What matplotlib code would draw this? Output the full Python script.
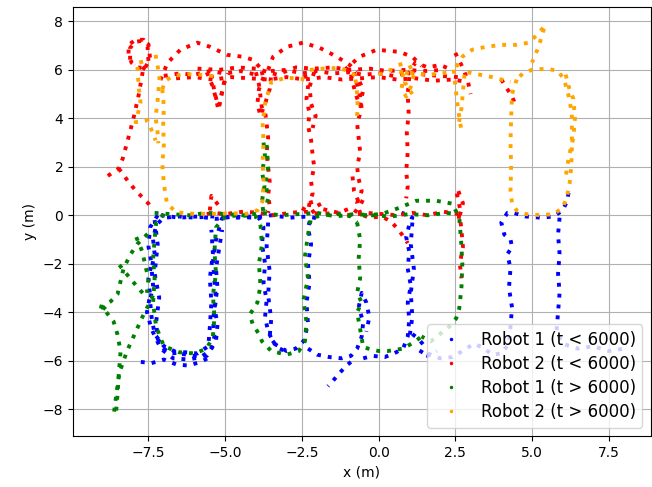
#!/usr/bin/env python3
"""Robot trajectories, split by time."""
import matplotlib
matplotlib.use("Agg")
import matplotlib.pyplot as plt
from matplotlib.lines import Line2D

LABELS = ["Robot 1 (t < 6000)", "Robot 2 (t < 6000)",
          "Robot 1 (t > 6000)", "Robot 2 (t > 6000)"]
COLORS = ["blue", "red", "green", "orange"]

# ---- Robot 1, t < 6000 (blue) ----
blue_left_x = [-5.0, -5.5, -6.0, -6.5, -7.0, -7.25, -7.35, -7.3, -7.4, -7.35, -7.45, -7.4, -7.3,
               -7.0, -6.5, -6.0, -5.6, -5.45, -5.35, -5.4, -5.3, -5.35, -5.4, -5.3, -5.1]
blue_left_y = [-0.05, -0.05, -0.1, -0.05, -0.1, -0.4, -1.0, -1.6, -2.2, -2.9, -3.5, -4.2, -4.9,
               -5.4, -5.7, -5.8, -5.8, -5.5, -5.0, -4.3, -3.5, -2.7, -1.9, -1.0, -0.1]
blue_left2_x = [-7.2, -7.45, -7.5, -7.4, -7.5, -7.45, -7.55, -7.4, -7.1, -6.7, -6.2, -5.8, -5.5,
                -5.3, -5.25, -5.35, -5.25, -5.3, -5.2, -5.1]
blue_left2_y = [0.0, -0.5, -1.3, -2.0, -2.6, -3.3, -4.0, -4.7, -5.5, -5.9, -5.95, -5.85, -5.6,
                -5.2, -4.5, -3.8, -3.0, -2.2, -1.4, -0.6]
blue_left3_x = [-7.3, -7.2, -7.3, -7.15, -7.25, -7.2, -7.0, -6.8, -6.3, -5.9, -5.55, -5.5, -5.45,
                -5.5, -5.4, -5.45]
blue_left3_y = [-0.2, -1.2, -2.4, -3.4, -4.4, -5.1, -5.5, -5.7, -5.65, -5.7, -5.4, -4.6, -3.6,
                -2.6, -1.6, -0.6]
blue_scat_x = [-7.75, -7.4, -7.0, -6.6, -6.2, -5.8, -5.5]
blue_scat_y = [-6.05, -6.1, -5.95, -6.15, -6.2, -6.05, -5.85]
blue_top_x = [-7.1, -6.5, -5.9, -5.3, -4.7, -4.1, -3.5, -2.9, -2.3, -1.9]
blue_top_y = [0.0, -0.1, -0.05, -0.15, -0.05, -0.1, 0.0, -0.1, -0.05, -0.15]
blue_col2_x = [-5.0, -4.6, -4.2, -3.9, -3.75, -3.8, -3.7, -3.75, -3.65, -3.7, -3.6, -3.4, -3.0,
               -2.7, -2.45, -2.3, -2.35, -2.25, -2.3, -2.2, -2.3, -2.2]
blue_col2_y = [-0.05, -0.1, -0.05, -0.1, -0.5, -1.2, -2.0, -2.8, -3.5, -4.2, -4.8, -5.3, -5.6,
               -5.5, -5.2, -4.5, -3.6, -2.8, -2.0, -1.2, -0.5, -0.05]
blue_col2b_x = [-3.6, -3.65, -3.55, -3.6, -3.5, -3.55, -3.3, -2.9]
blue_col2b_y = [-0.3, -1.3, -2.3, -3.3, -4.3, -5.0, -5.45, -5.7]
blue_col3_x = [-2.3, -2.0, -1.6, -1.2, -0.9, -0.7, -0.55, -0.5, -0.65, -0.55, -0.4, -0.3, -0.4]
blue_col3_y = [-5.5, -5.75, -5.85, -5.9, -5.8, -5.5, -5.0, -4.4, -3.8, -3.2, -3.6, -4.2, -4.8]
blue_tail_x = [-0.9, -1.05, -1.3, -1.5, -1.65]
blue_tail_y = [-6.05, -6.2, -6.55, -6.85, -7.05]
blue_col4_x = [-0.5, -0.2, 0.2, 0.5, 0.8, 0.95, 1.0, 0.95, 1.05, 0.95, 1.0, 0.9, 1.0, 1.1, 0.9, 0.75]
blue_col4_y = [-5.9, -5.8, -5.85, -5.7, -5.5, -5.0, -4.3, -3.6, -2.9, -2.2, -1.5, -0.9, -0.4, -0.1,
               0.05, 0.1]
blue_col4b_x = [1.1, 1.05, 1.15, 1.05, 1.1, 1.0]
blue_col4b_y = [-0.3, -1.2, -2.2, -3.2, -4.2, -5.1]
blue_wig_x = [1.1, 1.3, 1.5, 1.35, 1.6, 1.9]
blue_wig_y = [-4.9, -5.1, -5.4, -5.7, -5.8, -5.6]
blue_right_x = [1.6, 2.0, 2.4, 2.8, 3.1, 3.4, 3.7, 4.0, 4.25, 4.3, 4.35, 4.25, 4.3, 4.2, 4.35, 4.3,
                4.1, 4.0, 4.2, 4.4, 4.8, 5.3, 5.7, 6.0, 6.15, 6.2]
blue_right_y = [-5.7, -5.9, -5.85, -5.55, -5.3, -5.45, -5.75, -5.7, -5.3, -4.6, -3.8, -3.0, -2.2,
                -1.6, -1.3, -1.0, -0.8, -0.3, 0.1, 0.1, -0.05, -0.1, -0.05, 0.2, 0.6, 1.0]
blue_right2_x = [5.9, 5.85, 5.9, 5.85, 5.9, 5.85, 5.8, 6.0, 6.5, 7.0, 7.5, 8.0]
blue_right2_y = [-0.1, -0.8, -1.6, -2.4, -3.2, -4.0, -4.8, -5.3, -5.5, -5.4, -5.6, -5.5]

# ---- Robot 2, t < 6000 (red) ----
red_loop_x = [-7.69, -7.5, -7.53, -7.66, -7.92, -8.15, -8.15, -8.05, -7.89, -7.73]
red_loop_y = [6.0, 6.33, 6.95, 7.24, 7.24, 7.03, 6.62, 6.29, 6.12, 6.08]
red_loop2_x = [-7.6, -7.45, -7.5, -7.7, -7.95, -8.1, -8.1, -7.95]
red_loop2_y = [6.1, 6.5, 7.05, 7.2, 7.15, 6.9, 6.4, 6.2]
red_tail_x = [-7.69, -7.82, -7.99, -8.15, -8.34, -8.47, -8.67, -8.9]
red_tail_y = [5.91, 4.96, 4.0, 3.22, 2.34, 1.93, 1.76, 1.56]
red_tail2_x = [-8.47, -8.18, -7.92, -7.69, -7.5, -7.37]
red_tail2_y = [1.93, 1.43, 1.02, 0.73, 0.48, 0.19]
red_arc1_x = [-7.11, -6.88, -6.46, -5.91, -5.49, -4.94, -4.42, -4.09, -3.8]
red_arc1_y = [5.58, 6.29, 6.83, 7.12, 6.95, 6.62, 6.54, 6.41, 6.0]
red_arc2_x = [-3.6, -3.44, -2.99, -2.47, -1.92, -1.36, -0.94, -0.71]
red_arc2_y = [6.0, 6.54, 6.95, 7.12, 6.91, 6.54, 6.2, 5.91]
red_arc3_x = [-1.1, -0.62, -0.06, 0.68, 1.1, 1.4]
red_arc3_y = [6.0, 6.54, 6.83, 6.74, 6.54, 6.16]
red_top1_x = [-7.0, -6.5, -6.0, -5.5, -5.0, -4.5, -4.0, -3.5, -3.0, -2.5, -2.0, -1.5, -1.0, -0.5,
              0.0, 0.5, 1.0, 1.5, 2.0, 2.6]
red_top1_y = [5.75, 5.85, 5.8, 5.95, 5.85, 5.95, 5.8, 5.95, 6.0, 5.85, 5.95, 5.85, 5.9, 5.8,
              5.85, 5.75, 5.9, 5.8, 5.75, 5.7]
red_top2_x = [-6.6, -6.0, -5.4, -4.8, -4.2, -3.6, -3.0, -2.4, -1.8, -1.2, -0.6, 0.0, 0.6, 1.2,
              1.8, 2.4, 2.9]
red_top2_y = [5.65, 5.7, 5.6, 5.7, 5.65, 5.6, 5.7, 5.6, 5.7, 5.6, 5.65, 5.7, 5.6, 5.65, 5.55,
              5.6, 5.5]
red_top3_x = [-5.9, -5.2, -4.6, -4.0, -3.3, -2.7, -2.1, -1.5, -0.9, -0.3, 0.3, 0.9, 1.5, 2.1]
red_top3_y = [6.05, 6.0, 6.1, 6.05, 5.8, 6.1, 6.05, 6.1, 6.0, 6.05, 5.95, 6.0, 5.95, 6.0]
red_drip_x = [-5.6, -5.4, -5.3, -5.22, -5.15, -5.05, -4.9]
red_drip_y = [5.9, 5.3, 4.8, 4.35, 4.8, 5.4, 5.85]
red_drip2_x = [-5.45, -5.35, -5.25, -5.2, -5.1, -5.0]
red_drip2_y = [5.8, 5.1, 4.6, 4.5, 5.1, 5.7]
red_col2_x = [-4.0, -3.9, -3.85, -3.8, -3.7, -3.65, -3.6, -3.65, -3.6, -3.55, -3.6, -3.55, -3.6]
red_col2_y = [5.9, 5.4, 4.9, 4.4, 4.3, 3.8, 3.2, 2.6, 2.0, 1.4, 0.8, 0.4, 0.1]
red_col2b_x = [-3.75, -3.9, -3.95, -3.85, -3.7, -3.55, -3.5]
red_col2b_y = [5.7, 5.2, 4.6, 4.1, 4.6, 5.2, 5.8]
red_col3_x = [-2.4, -2.3, -2.35, -2.25, -2.3, -2.2, -2.15, -2.1, -2.2, -2.15, -2.25, -2.3]
red_col3_y = [5.8, 5.3, 4.8, 4.2, 3.7, 3.1, 2.5, 2.0, 1.4, 0.9, 0.5, 0.15]
red_col3b_x = [-2.1, -2.25, -2.2, -2.05, -2.15]
red_col3b_y = [5.9, 5.3, 4.6, 4.1, 3.6]
red_col4_x = [-0.8, -0.7, -0.6, -0.55, -0.7, -0.65, -0.6, -0.7, -0.65, -0.55, -0.7, -0.6]
red_col4_y = [5.9, 5.4, 4.9, 4.4, 3.8, 3.2, 2.6, 2.0, 1.5, 1.0, 0.5, 0.1]
red_col4b_x = [-0.9, -0.75, -0.6, -0.5, -0.7]
red_col4b_y = [5.8, 5.0, 4.5, 5.2, 5.7]
red_col4c_x = [-0.85, -0.8, -0.6, -0.45]
red_col4c_y = [1.6, 1.0, 0.4, 0.8]
red_col5_x = [1.0, 0.95, 0.98, 0.92, 0.95, 0.9, 0.95, 0.9]
red_col5_y = [5.7, 5.0, 4.2, 3.4, 2.6, 1.8, 1.2, 0.7]
red_col5top_x = [0.95, 1.2, 1.6, 2.0, 2.4]
red_col5top_y = [5.8, 6.3, 6.1, 6.2, 6.0]
red_col6_x = [2.6, 2.75, 2.65, 2.7, 2.75, 2.65, 2.7]
red_col6_y = [1.0, 0.5, 0.0, -0.6, -1.3, -2.0, -2.6]
red_col6b_x = [2.55, 2.65, 2.6]
red_col6b_y = [0.9, 0.3, -0.3]
red_bot_x = [-5.6, -5.4, -5.0, -4.4, -3.9, -3.4, -2.9, -2.4, -1.9, -1.4, -0.9, -0.4, 0.1, 0.6,
             1.1, 1.6, 2.1, 2.6]
red_bot_y = [0.05, 0.1, 0.05, 0.15, 0.1, 0.0, 0.1, 0.15, 0.05, 0.1, 0.0, 0.1, 0.05, 0.0, 0.1,
             0.0, 0.15, 0.05]
red_bump_x = [-5.5, -5.45, -5.3, -5.1]
red_bump_y = [0.2, 0.8, 0.55, 0.2]
red_curve_x = [-1.8, -1.3, -0.9, -0.6, -0.3, 0.1, 0.4, 0.65, 0.85, 0.95]
red_curve_y = [0.25, 0.1, 0.3, 0.05, -0.1, -0.05, -0.25, -0.6, -0.95, -1.15]
red_blob_x = [-2.5, -2.2, -1.9, -2.0, -2.3]
red_blob_y = [0.3, 0.1, 0.35, 0.6, 0.5]
red_bit1_x = [2.5, 2.7, 2.9, 3.0]
red_bit1_y = [6.7, 6.2, 5.6, 5.0]
red_bit2_x = [4.0, 4.2, 4.35, 4.45]
red_bit2_y = [5.6, 5.2, 4.9, 4.6]

# ---- Robot 1, t > 6000 (green) ----
green_tail_x = [-7.53, -7.86, -8.08, -8.31, -8.41, -8.51, -8.73, -9.06, -8.9, -8.64, -8.51, -8.41,
                -8.47, -8.51, -8.57]
green_tail_y = [-0.77, -1.18, -1.6, -2.18, -2.72, -3.26, -3.55, -3.84, -3.96, -4.38, -4.92, -5.62,
                -6.58, -7.41, -8.3]
green_tail2_x = [-8.62, -8.55, -8.45, -8.2, -7.95, -7.7, -7.5, -7.35]
green_tail2_y = [-8.1, -7.4, -6.5, -5.6, -4.9, -4.2, -3.7, -3.3]
green_streak_x = [-8.45, -8.1, -7.8, -7.55]
green_streak_y = [-2.05, -2.6, -3.05, -3.4]
green_streak2_x = [-7.9, -7.7, -7.6, -7.5, -7.55]
green_streak2_y = [-0.9, -1.5, -2.1, -2.6, -3.2]
green_tip_x = [-9.1, -8.95, -8.85, -9.0]
green_tip_y = [-3.75, -3.8, -3.7, -3.9]
green_left_x = [-7.0, -7.25, -7.3, -7.35, -7.3, -7.35, -7.25, -7.0, -6.5, -6.0, -5.6, -5.4, -5.35,
                -5.4, -5.3, -5.35, -5.3, -5.0, -4.5, -4.0, -3.85]
green_left_y = [0.05, -0.3, -1.0, -1.8, -2.6, -3.6, -4.6, -5.4, -5.65, -5.7, -5.5, -5.0, -4.2,
                -3.3, -2.4, -1.5, -0.5, -0.05, 0.0, -0.05, -0.4]
green_col2_x = [-3.85, -3.8, -3.9, -3.85, -3.95, -4.2, -4.1, -3.9, -3.8, -3.5, -3.0, -2.6, -2.4,
                -2.35, -2.45, -2.3, -2.4, -2.3, -2.2, -1.8, -1.3, -0.9, -0.7]
green_col2_y = [-0.4, -1.2, -2.0, -2.9, -3.6, -4.1, -4.5, -4.9, -5.2, -5.6, -5.75, -5.6, -5.2,
                -4.4, -3.5, -2.6, -1.7, -0.8, -0.1, 0.0, 0.05, -0.05, -0.3]
green_col4_x = [-0.7, -0.6, -0.65, -0.6, -0.7, -0.55, -0.7, -0.6, -0.5, 0.0, 0.3, 0.8, 1.2, 1.4]
green_col4_y = [-0.3, -1.0, -1.8, -2.6, -3.2, -3.6, -4.0, -4.7, -5.45, -5.6, -5.6, -5.5, -5.2, -5.0]
green_arc_x = [-0.5, 0.1, 0.68, 1.23, 1.88, 2.4, 2.63, 2.69, 2.73, 2.7, 2.63, 2.53, 2.3, 2.0, 1.7,
               1.4]
green_arc_y = [0.0, 0.05, 0.31, 0.6, 0.6, 0.48, -0.1, -1.06, -2.0, -3.0, -3.84, -4.25, -4.6, -4.9,
               -5.2, -5.0]
green_up_x = [-3.75, -3.7, -3.8, -3.72, -3.8, -3.75]
green_up_y = [3.0, 2.4, 1.8, 1.2, 0.6, 0.05]
green_up2_x = [-3.65, -3.6, -3.68, -3.6, -3.7]
green_up2_y = [2.9, 2.0, 1.3, 0.7, 0.2]
green_top_x = [-7.3, -6.8, -6.2, -5.6, -5.0, -4.4, -3.8, -3.2, -2.6, -2.0, -1.4, -0.8, -0.2, 0.4,
               1.0, 1.6, 2.2, 2.6]
green_top_y = [0.1, 0.05, 0.0, 0.1, 0.05, 0.0, 0.1, 0.0, 0.05, 0.1, -0.05, 0.05, 0.0, -0.05, 0.05,
               0.0, 0.1, 0.05]

# ---- Robot 2, t > 6000 (orange) ----
orange_la_x = [-7.27, -7.18, -7.14, -7.18, -7.21, -7.27, -7.21, -7.18]
orange_la_y = [6.62, 6.0, 5.58, 5.08, 4.63, 4.05, 3.51, 2.97]
orange_lb_x = [-7.86, -7.82, -7.76, -7.92, -7.53, -7.37, -7.27]
orange_lb_y = [6.12, 5.29, 4.63, 3.84, 3.92, 3.42, 3.09]
orange_lc_x = [-7.8, -7.65, -7.5]
orange_lc_y = [6.3, 6.35, 6.25]
orange_rect_x = [-7.05, -7.0, -7.02, -7.0, -7.05, -7.0, -6.9, -6.6, -6.0, -5.4, -4.8, -4.3, -3.95,
                 -3.78, -3.75, -3.78, -3.75, -3.78, -3.7, -3.5, -3.0, -2.5, -2.3]
orange_rect_y = [5.2, 4.5, 3.7, 2.9, 2.1, 1.3, 0.5, 0.12, 0.06, 0.06, 0.08, 0.06, 0.2, 0.6, 1.4,
                 2.2, 3.0, 3.8, 4.6, 5.5, 5.68, 5.62, 5.55]
orange_recttop_x = [-7.05, -6.95, -6.7, -6.2, -5.6, -5.2]
orange_recttop_y = [5.2, 5.55, 5.75, 5.82, 5.78, 5.7]
orange_mid_x = [-2.24, -1.8, -1.27, -0.9, -0.7]
orange_mid_y = [6.0, 6.05, 6.08, 5.9, 5.7]
orange_drip_x = [-0.75, -0.7, -0.68, -0.72]
orange_drip_y = [5.6, 5.0, 4.4, 3.9]
orange_mid2_x = [0.0, 0.4, 0.8, 1.2, 1.66, 2.0, 2.4]
orange_mid2_y = [5.8, 6.0, 5.9, 5.85, 5.8, 5.85, 5.9]
orange_cl1_x = [0.7, 0.8, 0.75, 0.9, 1.05, 1.15, 1.0, 0.85, 1.1]
orange_cl1_y = [6.3, 5.7, 5.2, 4.9, 5.3, 5.8, 6.2, 5.5, 5.0]
orange_cl2_x = [2.45, 2.5, 2.55, 2.6, 2.65, 2.7]
orange_cl2_y = [6.0, 5.4, 4.8, 4.3, 3.9, 3.5]
orange_cl3_x = [2.8, 2.75, 2.7, 2.6]
orange_cl3_y = [5.8, 5.1, 4.4, 3.7]
orange_arc_x = [2.53, 2.73, 3.05, 3.5, 4.03, 4.48, 4.9, 5.23, 5.39]
orange_arc_y = [6.12, 6.54, 6.83, 6.95, 7.03, 7.03, 7.12, 7.53, 7.78]
orange_spike_x = [5.39, 5.3, 5.2, 5.1, 5.0]
orange_spike_y = [7.7, 7.3, 6.9, 6.6, 6.3]
orange_slant_x = [2.9, 3.3, 3.7, 4.0, 4.3]
orange_slant_y = [5.9, 5.8, 5.7, 5.6, 5.5]
orange_loop_x = [4.5, 4.35, 4.32, 4.3, 4.32, 4.3, 4.35, 4.5, 4.8, 5.3, 5.7, 6.0, 6.15, 6.25, 6.3,
                 6.3, 6.3, 6.2, 6.05, 5.85, 5.5, 5.0, 4.7, 4.5]
orange_loop_y = [5.6, 5.0, 4.0, 3.0, 2.0, 1.0, 0.5, 0.2, 0.05, 0.0, 0.05, 0.3, 0.8, 1.5, 2.5, 3.5,
                 4.2, 4.9, 5.6, 5.95, 6.05, 6.0, 5.85, 5.6]
orange_loop2_x = [6.1, 6.2, 6.35, 6.4, 6.35, 6.2, 6.1]
orange_loop2_y = [5.8, 5.3, 4.8, 4.0, 3.2, 2.4, 1.6]

SERIES = [
    [(blue_left_x, blue_left_y), (blue_left2_x, blue_left2_y), (blue_left3_x, blue_left3_y),
     (blue_scat_x, blue_scat_y), (blue_top_x, blue_top_y), (blue_col2_x, blue_col2_y),
     (blue_col2b_x, blue_col2b_y), (blue_col3_x, blue_col3_y), (blue_tail_x, blue_tail_y),
     (blue_col4_x, blue_col4_y), (blue_col4b_x, blue_col4b_y), (blue_wig_x, blue_wig_y),
     (blue_right_x, blue_right_y), (blue_right2_x, blue_right2_y)],
    [(red_loop_x, red_loop_y), (red_loop2_x, red_loop2_y), (red_tail_x, red_tail_y),
     (red_tail2_x, red_tail2_y), (red_arc1_x, red_arc1_y), (red_arc2_x, red_arc2_y),
     (red_arc3_x, red_arc3_y), (red_top1_x, red_top1_y), (red_top2_x, red_top2_y),
     (red_top3_x, red_top3_y), (red_drip_x, red_drip_y), (red_drip2_x, red_drip2_y),
     (red_col2_x, red_col2_y), (red_col2b_x, red_col2b_y), (red_col3_x, red_col3_y),
     (red_col3b_x, red_col3b_y), (red_col4_x, red_col4_y), (red_col4b_x, red_col4b_y),
     (red_col4c_x, red_col4c_y), (red_col5_x, red_col5_y), (red_col5top_x, red_col5top_y),
     (red_col6_x, red_col6_y), (red_col6b_x, red_col6b_y), (red_bot_x, red_bot_y),
     (red_bump_x, red_bump_y), (red_curve_x, red_curve_y), (red_blob_x, red_blob_y),
     (red_bit1_x, red_bit1_y), (red_bit2_x, red_bit2_y)],
    [(green_tail_x, green_tail_y), (green_tail2_x, green_tail2_y),
     (green_streak_x, green_streak_y), (green_streak2_x, green_streak2_y),
     (green_tip_x, green_tip_y), (green_left_x, green_left_y), (green_col2_x, green_col2_y),
     (green_col4_x, green_col4_y), (green_arc_x, green_arc_y), (green_up_x, green_up_y),
     (green_up2_x, green_up2_y), (green_top_x, green_top_y)],
    [(orange_la_x, orange_la_y), (orange_lb_x, orange_lb_y), (orange_lc_x, orange_lc_y),
     (orange_rect_x, orange_rect_y), (orange_recttop_x, orange_recttop_y),
     (orange_mid_x, orange_mid_y), (orange_drip_x, orange_drip_y),
     (orange_mid2_x, orange_mid2_y), (orange_cl1_x, orange_cl1_y),
     (orange_cl2_x, orange_cl2_y), (orange_cl3_x, orange_cl3_y), (orange_arc_x, orange_arc_y),
     (orange_spike_x, orange_spike_y), (orange_slant_x, orange_slant_y),
     (orange_loop_x, orange_loop_y), (orange_loop2_x, orange_loop2_y)],
]


def main():
    fig = plt.figure(figsize=(6.52, 4.87), dpi=100)
    ax = fig.add_axes([0.112, 0.105, 0.886, 0.881])
    for segs, color in zip(SERIES, COLORS):
        for xs, ys in segs:
            ax.plot(xs, ys, color=color, lw=2.8, ls=(0, (1, 1.8)))
    ax.set_xlim(-9.96, 8.87)
    ax.set_ylim(-9.1, 8.6)
    ax.grid(True)
    ax.set_axisbelow(True)
    ax.set_xlabel("x (m)")
    ax.set_ylabel("y (m)")
    handles = [Line2D([], [], color=c, marker="o", ms=1.5, ls="None") for c in COLORS]
    ax.legend(handles, LABELS, loc="lower right", fontsize=12, labelspacing=0.36)
    fig.savefig("out.png", dpi=100)
    plt.close(fig)


if __name__ == "__main__":
    main()
